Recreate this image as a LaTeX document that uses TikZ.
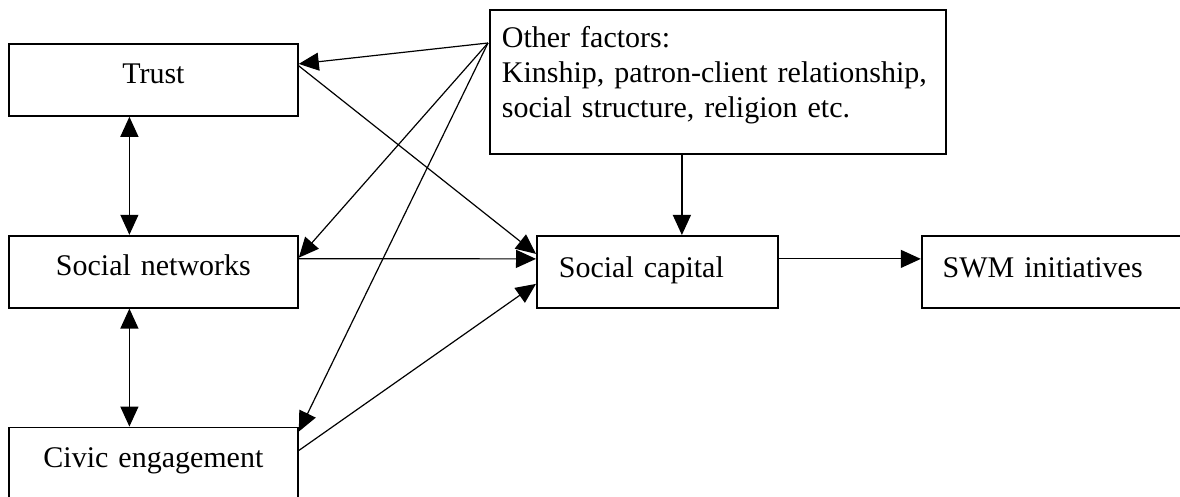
\documentclass[tikz,border=0pt]{standalone}
\usepackage{fontspec}
\setmainfont{Liberation Serif}
\usepackage{tikz}
\usetikzlibrary{arrows.meta,positioning}

\tikzset{
  box/.style={draw, line width=0.9pt, anchor=north west, inner ysep=0pt, font=\fontsize{15}{17.5}\selectfont},
  midbox/.style={box, inner xsep=0pt, text width=144.5pt, align=center, text height=20pt, text depth=16pt},
  sidebox/.style={box, align=left, text height=21pt, text depth=15pt},
  link/.style={->, line width=0.6pt},
}

\begin{document}
\begin{tikzpicture}[x=0.5pt, y=-0.5pt, >={Triangle[length=10pt, width=9pt]}]
            \useasboundingbox (0,0) rectangle (1180,497);
            \node[midbox] (trust) at (8,43) {Trust};
            \node[midbox, below=59pt of trust] (snet) {Social networks};
            \node[midbox, below=59pt of snet] (civic) {Civic engagement};
            \node[box, inner xsep=6pt, text width=216pt, align=left, text height=19pt, text depth=53pt] (other) at (489,9) {Other factors:\\Kinship, patron-client relationship,\\social structure, religion etc.};
            \node[sidebox, inner xsep=11pt, text width=98.5pt] (scap) at (536,235) {Social capital};
            \node[sidebox, inner xsep=10.5pt, text width=118.5pt, right=71pt of scap] (swm) {SWM initiatives};
            \coordinate (src) at (488,43);
            
            \draw[link] (src) -- (trust);
            \draw[link] (src) -- ([yshift=7pt]snet.east);
            \draw[link] (src) -- ([yshift=-2.5pt]civic.north east);
            \draw[link] ([yshift=7pt]trust.east) -- ([yshift=9pt]scap.west);
            \draw[link] ([yshift=6.5pt]snet.east) -- ([yshift=6.5pt]scap.west);
            \draw[link] ([yshift=6.5pt]civic.east) -- ([yshift=-6pt]scap.west);
            \draw[link] ([xshift=-18pt]other.south) -- ([xshift=-18pt]other.south |- scap.north);
            \draw[link] ([yshift=6.5pt]scap.east) -- ([yshift=6.5pt]swm.west);
            \draw[<->, line width=0.6pt] ([xshift=-12pt]trust.south) -- ([xshift=-12pt]snet.north);
            \draw[<->, line width=0.6pt] ([xshift=-12pt]snet.south) -- ([xshift=-12pt]civic.north);
        \end{tikzpicture}
\end{document}
